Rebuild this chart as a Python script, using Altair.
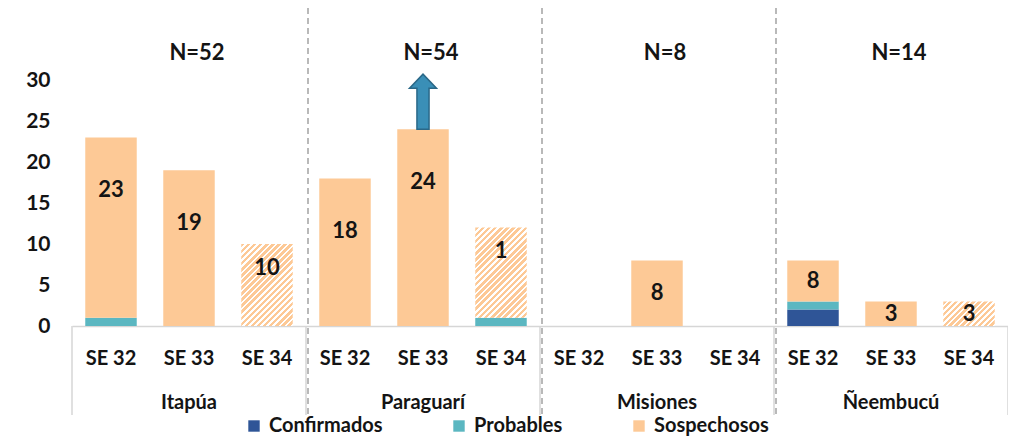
import math
import altair as alt
import pandas as pd

# ---------------- data ----------------
departamentos = ["Itapúa", "Paraguarí", "Misiones", "Ñeembucú"]
semanas = ["SE 32", "SE 33", "SE 34"]
tipos = ["Confirmados", "Probables", "Sospechosos"]
confirmados = [[0, 0, 0], [0, 0, 0], [0, 0, 0], [2, 0, 0]]
probables = [[1, 0, 0], [0, 0, 1], [0, 0, 0], [1, 0, 0]]
sospechosos = [[22, 19, 10], [18, 24, 11], [0, 8, 0], [5, 3, 3]]
etiquetas = [["23", "19", "10"], ["18", "24", "1"], ["", "8", ""], ["8", "3", "3"]]
n_totales = ["N=52", "N=54", "N=8", "N=14"]
semana_parcial = "SE 34"          # drawn hatched
flecha_en = ("Paraguarí", "SE 33")  # arrow annotation

# ---------------- style ----------------
colores = ["#2F5597", "#5BB7C1", "#FDC996"]
FONT = "Lato"
W, H = 936, 246
Y_MAX = 30
PAD_IN = 0.34
TEXT = "#141414"
GRID_GREY = "#d6d6d6"

keys = [f"{d}|{s}" for d in departamentos for s in semanas]

rows = []
for i, d in enumerate(departamentos):
    for j, s in enumerate(semanas):
        for k, (t, arr) in enumerate(zip(tipos, [confirmados, probables, sospechosos])):
            rows.append({"key": f"{d}|{s}", "dept": d, "se": s, "tipo": t,
                         "valor": arr[i][j], "orden": k})
df_bars = pd.DataFrame(rows)


def label_y(total, base):
    if total >= 15:
        return total - 6.4
    if total >= 10:
        return total - 2.9
    return (total + base) / 2


lab_rows = []
for i, d in enumerate(departamentos):
    for j, s in enumerate(semanas):
        base = confirmados[i][j] + probables[i][j]
        total = base + sospechosos[i][j]
        if etiquetas[i][j]:
            lab_rows.append({"key": f"{d}|{s}", "dept": d, "se": s,
                             "texto": etiquetas[i][j], "total": total,
                             "ylab": label_y(total, base)})
df_lab = pd.DataFrame(lab_rows)

df_dept = pd.DataFrame({"key": [f"{d}|SE 33" for d in departamentos],
                        "dept": departamentos, "n": n_totales})
df_first = pd.DataFrame({"key": [f"{d}|SE 32" for d in departamentos]})
df_inner = pd.DataFrame({"key": [f"{d}|SE 32" for d in departamentos[1:]]})
df_last = pd.DataFrame({"key": [f"{departamentos[-1]}|SE 34"]})

# ---------------- hatch gradients ----------------
step = W / len(keys)
bar_w = step * (1 - PAD_IN)
px_unit = H / Y_MAX
half_gap = step * PAD_IN / 2


def hatch(h_units):
    w, h = bar_w, h_units * px_unit
    c = (w + h) / (w * w + h * h)
    a, b = c * w, c * h
    L = (w + h) / math.sqrt(2)
    n = max(1, round(L / 4.3))
    stops = []
    for i in range(n):
        o0, o1, o2 = i / n, (i + 0.58) / n, (i + 1) / n
        stops += [{"offset": o0, "color": colores[2]},
                  {"offset": o1, "color": colores[2]},
                  {"offset": o1, "color": "#ffffff"},
                  {"offset": min(o2, 1.0), "color": "#ffffff"}]
    return {"gradient": "linear", "x1": 0, "y1": 0, "x2": a, "y2": b, "stops": stops}


conds = []
for i, d in enumerate(departamentos):
    j = semanas.index(semana_parcial)
    v = sospechosos[i][j]
    if v > 0:
        conds.append({"test": f"datum.key == '{d}|{semana_parcial}' && datum.tipo == 'Sospechosos'",
                      "value": hatch(v)})

x_scale = alt.Scale(domain=keys, paddingInner=PAD_IN, paddingOuter=PAD_IN / 2)
y_scale = alt.Scale(domain=[0, Y_MAX])


def xenc(band=None):
    kw = {}
    if band is not None:
        kw["bandPosition"] = band
    return alt.X("key:N", scale=x_scale, title=None, **kw)


def yenc(field, stack=None):
    kw = {}
    if stack is not None:
        kw["stack"] = stack
    return alt.Y(field, scale=y_scale, title=None, **kw)


bars = alt.Chart(df_bars).mark_bar().encode(
    x=xenc(),
    y=yenc("valor:Q", stack="zero"),
    color=alt.Color("tipo:N",
                    scale=alt.Scale(domain=tipos, range=colores),
                    legend=alt.Legend(orient="none", legendX=172, legendY=336,
                                      direction="horizontal", columns=3,
                                      title=None, labelFont=FONT, labelFontSize=20,
                                      labelFontWeight="bold", labelColor=TEXT,
                                      symbolType="square", symbolSize=130,
                                      symbolStrokeWidth=0, columnPadding=66,
                                      labelOffset=5),
                    condition=conds),
    order=alt.Order("orden:Q", sort="ascending"),
)

labels = alt.Chart(df_lab).mark_text(font=FONT, fontSize=22, fontWeight="bold",
                                     color=TEXT, baseline="middle").encode(
    x=xenc(), y=yenc("ylab:Q"), text="texto:N")

arrow_path = ("M -0.22 1 L 0.22 1 L 0.22 -0.49 L 0.49 -0.49 L 0 -1 "
              "L -0.49 -0.49 L -0.22 -0.49 Z")
arrow = alt.Chart(df_lab).transform_filter(
    f"datum.dept == '{flecha_en[0]}' && datum.se == '{flecha_en[1]}'"
).mark_point(shape=arrow_path, size=3025, filled=True, fill="#3A8FB7",
             stroke="#2A6888", strokeWidth=1.5, opacity=1, yOffset=-27.5).encode(
    x=xenc(), y=yenc("total:Q"))

n_text = alt.Chart(df_dept).mark_text(font=FONT, fontSize=22, fontWeight="bold",
                                      color=TEXT, baseline="alphabetic", dx=8).encode(
    x=xenc(), y=alt.value(-20), text="n:N")

dept_text = alt.Chart(df_dept).mark_text(font=FONT, fontSize=20, fontWeight="bold",
                                         color=TEXT, baseline="alphabetic").encode(
    x=xenc(), y=alt.value(H + 83), text="dept:N")

solid_left = alt.Chart(df_first).mark_rule(color=GRID_GREY, strokeWidth=1.5,
                                           xOffset=-half_gap).encode(
    x=xenc(band=0), y=alt.value(H), y2=alt.value(H + 89))
solid_right = alt.Chart(df_last).mark_rule(color=GRID_GREY, strokeWidth=1.5,
                                           xOffset=half_gap).encode(
    x=xenc(band=1), y=alt.value(H), y2=alt.value(H + 89))
dashed = alt.Chart(df_inner).mark_rule(color="#a3a3a3", strokeWidth=1.5,
                                       strokeDash=[6, 4], xOffset=-half_gap + 2).encode(
    x=xenc(band=0), y=alt.value(-72), y2=alt.value(H + 89))

chart = alt.layer(
    bars, dashed, solid_left, solid_right, labels, arrow, n_text, dept_text
).properties(
    width=W, height=H,
    autosize=alt.AutoSizeParams(type="none"),
    padding={"left": 64, "top": 72, "right": 0, "bottom": 111},
    background="white",
).configure(font=FONT).configure_view(stroke=None).configure_axisX(
    labelExpr="split(datum.value, '|')[1]", labelAngle=0,
    labelFont=FONT, labelFontSize=20, labelFontWeight="bold",
    labelColor=TEXT, labelPadding=22, ticks=False, tickSize=0,
    domainColor=GRID_GREY, domainWidth=1.5, grid=False
).configure_axisY(
    values=[0, 5, 10, 15, 20, 25, 30], labelFont=FONT,
    labelFontSize=21, labelFontWeight="bold", labelColor=TEXT,
    labelPadding=22, ticks=False, domain=False, grid=False
)

chart.save("out.html", embed_options={"renderer": "svg", "actions": False})
